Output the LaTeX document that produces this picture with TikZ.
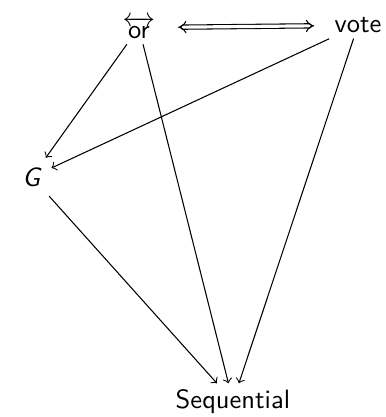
\documentclass[tikz,border=0pt]{standalone}
\usepackage{amsmath}
\usetikzlibrary{arrows.meta}

\begin{document}
\begin{tikzpicture}[>=to,font=\sffamily,line cap=round,every node/.style={inner sep=2pt}]
\useasboundingbox (0,0) rectangle (5.115,5.526);
\node (or) at (1.84,5.16) {$\overleftrightarrow{\textsf{or}}$};
\node (vote) at (4.744,5.19) {vote};
\node[inner sep=3.5pt] (G) at (0.424,3.18) {\textit{G}};
\node (seq) at (3.087,0.21) {Sequential};
\draw[->] (or) -- (G);
\draw[->] (vote) -- (G);
\draw[->] (or) -- (seq);
\draw[->] (vote) -- (seq);
\draw[->] (G) -- (seq);
\draw[double,double distance=1.2pt,{Implies}-{Implies},shorten <=6.5pt,shorten >=5.5pt] (or) -- (vote);
\end{tikzpicture}
\end{document}
